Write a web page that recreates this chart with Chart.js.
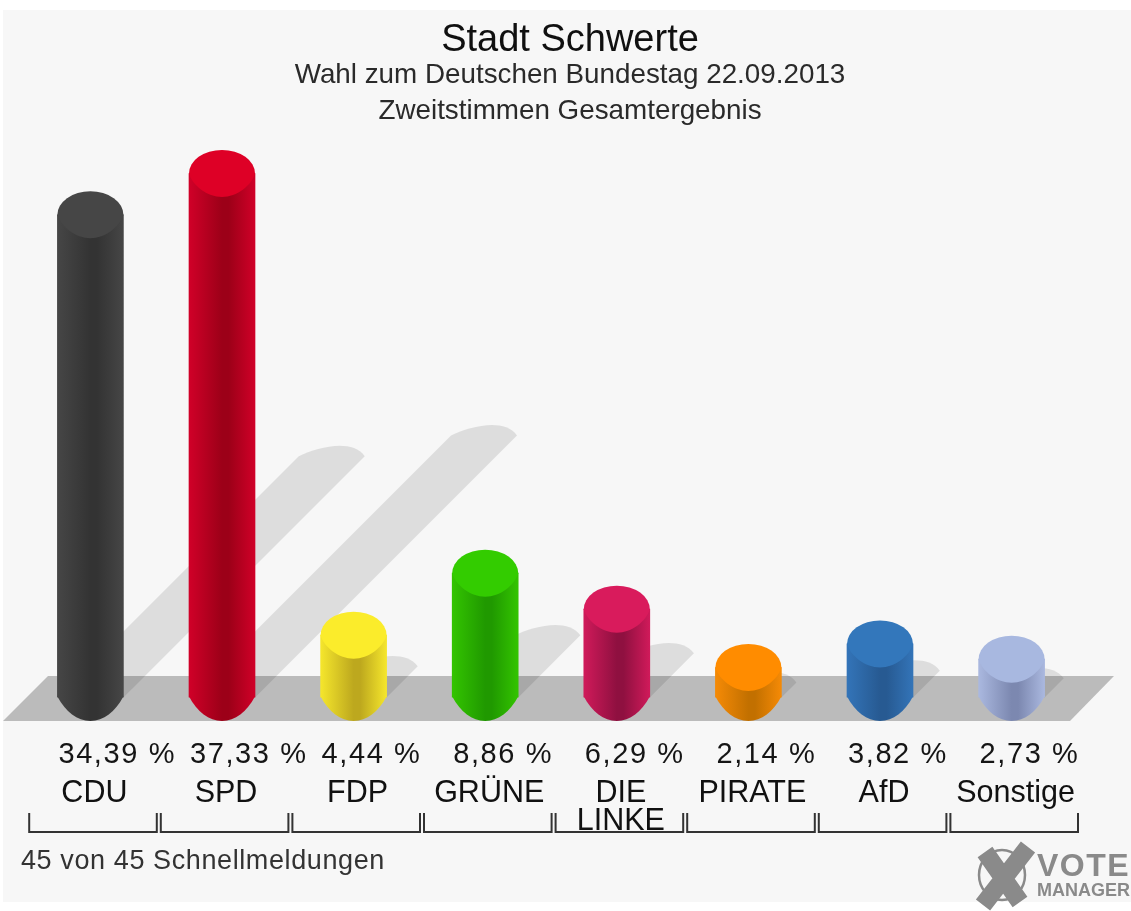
<!DOCTYPE html>
<html>

<head>
    <meta charset="utf-8">
    <style>
        body { margin: 0; background: #fff; overflow: hidden; }
        canvas { display: block; filter: blur(0.6px); }
    </style>
</head>

<body>
    <canvas id="chartId" width="1131" height="911"></canvas>
    <script src="https://cdn.jsdelivr.net/npm/chart.js"></script>
    <script>
        // data
        const parties = ['CDU', 'SPD', 'FDP', 'GRÜNE', ['DIE', 'LINKE'], 'PIRATE', 'AfD', 'Sonstige'];
        const shares = [34.39, 37.33, 4.44, 8.86, 6.29, 2.14, 3.82, 2.73];

        const chartTitle = 'Stadt Schwerte';
        const chartSubtitle = ['Wahl zum Deutschen Bundestag 22.09.2013', 'Zweitstimmen Gesamtergebnis'];
        const footerText = '45 von 45 Schnellmeldungen';

        // cap colour, side light, side dark
        const capColors = ['#464646', '#de0026', '#fbec2b', '#33cc00', '#d91b5c', '#ff8c00', '#3377bb', '#a8b8e0'];
        const sideLight = ['#464646', '#d00028', '#f5e62c', '#33c400', '#d01a5a', '#f58a06', '#3374b8', '#aab8df'];
        const sideDark = ['#333333', '#9c0018', '#bda81e', '#209900', '#8f1040', '#c27000', '#275a92', '#7c88b0'];

        const fontName = '"Liberation Sans", Arial, sans-serif';
        const barWidth = 66;
        const halfDepth = 23.5;

        const canvas = document.getElementById('chartId');

        function sideGradient(ctx, centerX, i) {
            // the scale has no pixels yet on the very first pass
            if (!Number.isFinite(centerX)) return '#888888';
            const left = centerX - barWidth / 2;
            const grad = ctx.createLinearGradient(left, 0, left + barWidth, 0);
            grad.addColorStop(0, sideLight[i]);
            grad.addColorStop(0.5, sideDark[i]);
            grad.addColorStop(0.6, sideDark[i]);
            grad.addColorStop(1, sideLight[i]);
            return grad;
        }

        // floor, shadows and brackets
        const scenery = {
            id: 'scenery',
            beforeDatasetsDraw(chart) {
                const { ctx } = chart;
                const bars = chart.getDatasetMeta(0).data;
                const baseY = bars[0].base;
                ctx.save();

                ctx.fillStyle = '#bbbbbb';
                ctx.beginPath();
                ctx.moveTo(3, baseY + 23.5);
                ctx.lineTo(48, baseY - 21.5);
                ctx.lineTo(1114, baseY - 21.5);
                ctx.lineTo(1070, baseY + 23.5);
                ctx.closePath();
                ctx.fill();

                // shadows fall to the upper right, half as long as the bar
                ctx.fillStyle = 'rgba(0,0,0,0.1)';
                bars.forEach(bar => {
                    const reach = (bar.base - bar.y) / 2;
                    const w = barWidth / 2;
                    const tipX = bar.x + reach;
                    const tipY = bar.base - reach;
                    ctx.beginPath();
                    ctx.moveTo(bar.x - w, bar.base);
                    ctx.lineTo(tipX - w, tipY);
                    ctx.bezierCurveTo(tipX - 14, tipY - 9, tipX + 20, tipY - 18, tipX + w, tipY);
                    ctx.lineTo(bar.x + w, bar.base);
                    ctx.closePath();
                    ctx.fill();
                });

                // rounded foot of each cylinder
                bars.forEach((bar, i) => {
                    const w = barWidth / 2;
                    ctx.fillStyle = sideGradient(ctx, bar.x, i);
                    ctx.beginPath();
                    ctx.moveTo(bar.x - w, bar.base - 1);
                    ctx.bezierCurveTo(bar.x - w * 0.75, bar.base + halfDepth * 0.6, bar.x - w * 0.4, bar.base + halfDepth, bar.x, bar.base + halfDepth);
                    ctx.bezierCurveTo(bar.x + w * 0.4, bar.base + halfDepth, bar.x + w * 0.75, bar.base + halfDepth * 0.6, bar.x + w, bar.base - 1);
                    ctx.closePath();
                    ctx.fill();
                });
                ctx.restore();
            },
            afterDatasetsDraw(chart) {
                const { ctx } = chart;
                const bars = chart.getDatasetMeta(0).data;
                ctx.save();
                bars.forEach((bar, i) => {
                    const w = barWidth / 2;
                    ctx.fillStyle = capColors[i];
                    ctx.beginPath();
                    ctx.ellipse(bar.x, bar.y, w, halfDepth, 0, Math.PI, 0);
                    ctx.bezierCurveTo(bar.x + w * 0.9, bar.y + halfDepth * 0.5, bar.x + w * 0.45, bar.y + halfDepth, bar.x, bar.y + halfDepth);
                    ctx.bezierCurveTo(bar.x - w * 0.45, bar.y + halfDepth, bar.x - w * 0.9, bar.y + halfDepth * 0.5, bar.x - w, bar.y);
                    ctx.closePath();
                    ctx.fill();
                });

                // value labels, left aligned from the bar
                ctx.fillStyle = '#151515';
                ctx.font = '29px ' + fontName;
                ctx.letterSpacing = '1.6px';
                ctx.textAlign = 'left';
                ctx.textBaseline = 'middle';
                bars.forEach((bar, i) => {
                    ctx.fillText(shares[i].toFixed(2).replace('.', ',') + ' %', bar.x - 32, 755);
                });

                // brackets under the party names
                ctx.strokeStyle = '#333333';
                ctx.lineWidth = 2;
                bars.forEach(bar => {
                    const mid = bar.x + 2.6;
                    ctx.beginPath();
                    ctx.moveTo(mid - 63.8, 813);
                    ctx.lineTo(mid - 63.8, 832);
                    ctx.lineTo(mid + 63.8, 832);
                    ctx.lineTo(mid + 63.8, 813);
                    ctx.stroke();
                });

                ctx.fillStyle = '#333333';
                ctx.font = '27px ' + fontName;
                ctx.letterSpacing = '0.6px';
                ctx.fillText(footerText, 21, 862);
                ctx.letterSpacing = '0px';

                // vote manager mark
                ctx.strokeStyle = '#8a8a8a';
                ctx.lineWidth = 2.5;
                ctx.beginPath();
                ctx.ellipse(1002, 875, 23, 25, 0, 0, Math.PI * 2);
                ctx.stroke();
                ctx.lineWidth = 18;
                ctx.beginPath();
                ctx.moveTo(985, 852);
                ctx.lineTo(1020, 902);
                ctx.moveTo(1028, 847);
                ctx.lineTo(983, 905);
                ctx.stroke();
                ctx.fillStyle = '#8a8a8a';
                ctx.font = 'bold 32px ' + fontName;
                ctx.letterSpacing = '1.5px';
                ctx.fillText('VOTE', 1037, 867);
                ctx.letterSpacing = '0px';
                ctx.font = 'bold 18px ' + fontName;
                ctx.fillText('MANAGER', 1037, 891);
                ctx.restore();
            }
        };

        // grey page background with the thin white margin
        const backdrop = {
            id: 'backdrop',
            beforeDraw(chart) {
                const { ctx } = chart;
                ctx.save();
                ctx.fillStyle = '#f7f7f7';
                ctx.fillRect(3, 10, 1128, 892);
                ctx.restore();
            }
        };

        new Chart(canvas, {
            type: 'bar',
            data: {
                labels: parties,
                datasets: [{
                    data: shares,
                    barThickness: barWidth,
                    borderWidth: 0,
                    backgroundColor: c => sideGradient(c.chart.ctx, c.chart.scales.x.getPixelForValue(c.dataIndex), c.dataIndex)
                }]
            },
            options: {
                responsive: false,
                animation: false,
                layout: { padding: { left: 24.6, right: 15.6, top: 0, bottom: 0 } },
                plugins: {
                    legend: { display: false },
                    tooltip: { enabled: false },
                    title: {
                        display: true,
                        text: chartTitle,
                        color: '#101010',
                        font: { family: fontName, size: 38, weight: 'normal', lineHeight: 0.9 },
                        padding: { top: 23, bottom: 0 }
                    },
                    subtitle: {
                        display: true,
                        text: chartSubtitle,
                        color: '#2a2a2a',
                        font: { family: fontName, size: 27.8, weight: 'normal', lineHeight: 1.295 },
                        padding: { top: 0, bottom: 6.8 }
                    }
                },
                scales: {
                    x: {
                        grid: { display: false, drawTicks: true, tickLength: 82 },
                        border: { display: false },
                        ticks: {
                            color: '#111111',
                            font: { family: fontName, size: 30.5, lineHeight: 0.92 },
                            padding: 0,
                            labelOffset: 4,
                            maxRotation: 0,
                            autoSkip: false
                        },
                        afterFit: s => { s.height = 213.5; }
                    },
                    y: {
                        position: 'right',
                        min: 0,
                        max: 40,
                        grid: { display: false },
                        border: { display: false },
                        ticks: { display: false },
                        afterFit: s => { s.width = 38; }
                    }
                }
            },
            plugins: [backdrop, scenery]
        });
    </script>
</body>

</html>
